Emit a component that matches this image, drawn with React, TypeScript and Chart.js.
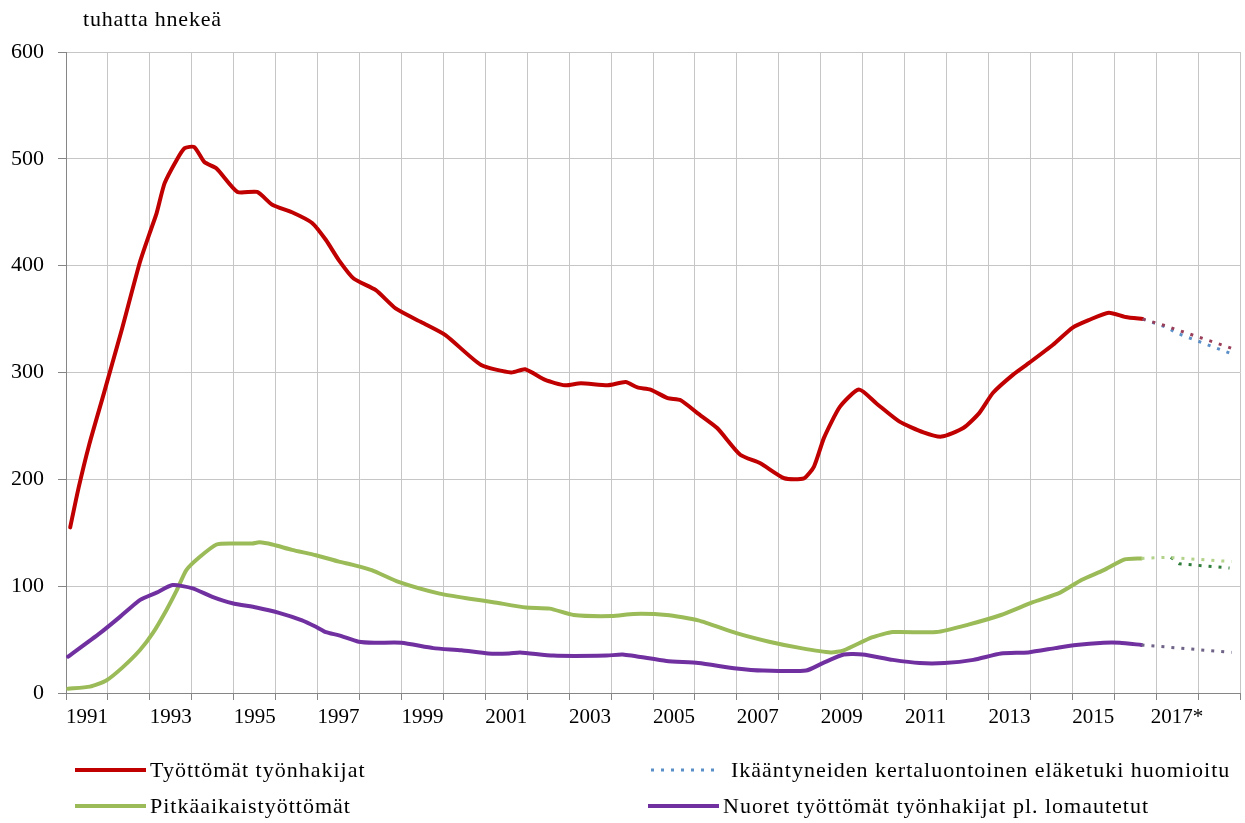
import React, { useEffect, useRef } from 'react';
import { Chart, registerables } from 'chart.js';

Chart.register(...registerables);

const FONT = '"Liberation Serif", "Times New Roman", serif';

const titleText = 'tuhatta hnekeä';

const xTickLabels = ['1991', '1993', '1995', '1997', '1999', '2001', '2003', '2005', '2007', '2009', '2011', '2013', '2015', '2017*'];

const redYears = [1991.10, 1991.30, 1991.55, 1991.90, 1992.10, 1992.33, 1992.76, 1993.00, 1993.16, 1993.35, 1993.64, 1993.83, 1994.06, 1994.30, 1994.59, 1995.09, 1995.56, 1995.92, 1996.39, 1996.87, 1997.20, 1997.51, 1997.86, 1998.39, 1998.86, 1999.48, 2000.05, 2000.90, 2001.62, 2001.95, 2002.43, 2002.90, 2003.28, 2003.92, 2004.35, 2004.63, 2004.94, 2005.35, 2005.66, 2006.06, 2006.53, 2007.08, 2007.56, 2008.13, 2008.60, 2008.84, 2009.08, 2009.46, 2009.91, 2010.33, 2010.88, 2011.45, 2011.88, 2012.40, 2012.78, 2013.11, 2013.59, 2013.97, 2014.54, 2015.01, 2015.39, 2015.87, 2016.27, 2016.68];
const redValues = [155, 192, 232, 280, 308, 340, 403, 431, 449, 477, 499, 510, 511, 497, 491, 469, 469, 457, 450, 440, 424, 405, 388, 377, 360, 347, 335, 307, 300, 303, 293, 288, 290, 288, 291, 286, 284, 276, 274, 262, 248, 223, 215, 201, 201, 212, 239, 268, 284, 271, 254, 244, 240, 248, 262, 281, 298, 309, 326, 342, 349, 356, 352, 350];

const greenYears = [1991.05, 1991.57, 1991.97, 1992.35, 1992.76, 1993.07, 1993.40, 1993.64, 1993.87, 1994.18, 1994.59, 1994.97, 1995.44, 1995.61, 1995.92, 1996.39, 1996.96, 1997.51, 1997.84, 1998.29, 1998.93, 1999.91, 2000.67, 2001.19, 2001.97, 2002.54, 2003.11, 2004.02, 2004.54, 2005.32, 2006.08, 2006.99, 2007.77, 2008.53, 2009.24, 2009.55, 2010.22, 2010.72, 2011.76, 2012.52, 2013.30, 2014.06, 2014.71, 2015.23, 2015.75, 2016.25, 2016.65];
const greenValues = [4, 6, 12, 24, 40, 56, 78, 96, 115, 127, 139, 140, 140, 141, 139, 134, 129, 123, 120, 115, 104, 93, 88, 85, 80, 79, 73, 72, 74, 73, 68, 56, 48, 42, 38, 40, 52, 57, 57, 64, 73, 85, 94, 106, 115, 125, 126];

const purpleYears = [1991.05, 1991.81, 1992.28, 1992.76, 1993.16, 1993.54, 1994.02, 1994.49, 1994.97, 1995.54, 1996.08, 1996.63, 1996.96, 1997.20, 1997.51, 1997.98, 1998.36, 1999.00, 1999.76, 2000.43, 2001.07, 2001.57, 2001.83, 2002.62, 2003.90, 2004.28, 2005.32, 2006.08, 2006.99, 2007.63, 2008.65, 2009.05, 2009.55, 2010.00, 2010.72, 2011.36, 2011.95, 2012.64, 2013.30, 2013.95, 2014.59, 2015.09, 2015.75, 2016.13, 2016.65];
const purpleValues = [34, 56, 71, 87, 94, 101, 98, 90, 84, 80, 75, 68, 62, 57, 54, 48, 47, 47, 42, 40, 37, 37, 38, 35, 35, 36, 30, 28, 23, 21, 21, 28, 36, 36, 31, 28, 28, 31, 37, 38, 42, 45, 47, 47, 45];

const redProjYears = [2016.68, 2017.20, 2018.85];
const redProjValues = [350, 344, 322];
const blueProjYears = [2016.68, 2017.20, 2017.55, 2018.90];
const blueProjValues = [350, 343, 336, 316];
const lightGreenProjYears = [2016.65, 2017.25, 2018.80];
const lightGreenProjValues = [126, 127, 123];
const darkGreenProjYears = [2017.35, 2017.55, 2018.75];
const darkGreenProjValues = [127, 121, 117];
const purpleProjYears = [2016.65, 2018.80];
const purpleProjValues = [45, 38];

const legendLabels = [
  'Työttömät työnhakijat',
  'Ikääntyneiden kertaluontoinen eläketuki huomioitu',
  'Pitkäaikaistyöttömät',
  'Nuoret työttömät työnhakijat pl. lomautetut',
];

const RED = '#c00000';
const GREEN = '#9bbb59';
const PURPLE = '#7030a0';
const BLUE = '#5b8fc7';

const pts = (xs: number[], ys: number[]) => xs.map((x, i) => ({ x, y: ys[i] }));

const solid = (label: string, data: any[], color: string) => ({
  label,
  data,
  borderColor: color,
  backgroundColor: color,
  borderWidth: 4,
  pointRadius: 0,
  borderJoinStyle: 'round' as const,
  borderCapStyle: 'round' as const,
  fill: false,
  tension: 0.2,
});

const dotted = (label: string, data: any[], color: string) => ({
  label,
  data,
  borderColor: color,
  backgroundColor: color,
  borderWidth: 3,
  borderDash: [3, 7],
  pointRadius: 0,
  fill: false,
  tension: 0,
});

const legendSpec = [
  { text: legendLabels[0], color: RED, dash: false, x: 75, y: 770 },
  { text: legendLabels[1], color: BLUE, dash: true, x: 648, y: 770 },
  { text: legendLabels[2], color: GREEN, dash: false, x: 75, y: 806 },
  { text: legendLabels[3], color: PURPLE, dash: false, x: 648, y: 806 },
];

const overlayPlugin = {
  id: 'overlay',
  afterDraw(chart: any) {
    const ctx = chart.ctx;
    ctx.save();
    ctx.fillStyle = '#000';
    ctx.textBaseline = 'middle';
    ctx.textAlign = 'left';
    ctx.font = `22px ${FONT}`;
    (ctx as any).letterSpacing = '0.8px';
    ctx.fillText(titleText, 83, 20);
    (ctx as any).letterSpacing = '1px';
    legendSpec.forEach((it) => {
      ctx.save();
      ctx.strokeStyle = it.color;
      if (it.dash) {
        ctx.lineWidth = 3;
        ctx.setLineDash([3, 7]);
        ctx.beginPath();
        ctx.moveTo(it.x + 3, it.y);
        ctx.lineTo(it.x + 70, it.y);
        ctx.stroke();
      } else {
        ctx.lineWidth = 4;
        ctx.lineCap = 'butt';
        ctx.beginPath();
        ctx.moveTo(it.x, it.y);
        ctx.lineTo(it.x + 71, it.y);
        ctx.stroke();
      }
      ctx.restore();
      ctx.fillText(it.text, it.x + (it.dash ? 83 : 75), it.y + 1);
    });
    (ctx as any).letterSpacing = '0px';
    ctx.restore();
  },
};

const isYear = (v: any) => typeof v === 'number' && Math.abs(v - Math.round(v)) < 1e-6;

const labelFor = (v: number) => {
  const idx = (v - 1991.5) / 2;
  if (Math.abs(idx - Math.round(idx)) < 1e-6 && idx >= 0 && idx < xTickLabels.length) {
    return xTickLabels[Math.round(idx)];
  }
  return '';
};

export default function App() {
  const ref = useRef<HTMLCanvasElement | null>(null);

  useEffect(() => {
    if (!ref.current) return;
    const chart = new Chart(ref.current, {
      type: 'line',
      data: {
        datasets: [
          dotted('red-proj', pts(redProjYears, redProjValues), '#9a3f5a'),
          dotted(legendLabels[1], pts(blueProjYears, blueProjValues), BLUE),
          dotted('green-proj', pts(lightGreenProjYears, lightGreenProjValues), '#b3d28a'),
          dotted('darkgreen-proj', pts(darkGreenProjYears, darkGreenProjValues), '#2f7d3a'),
          dotted('purple-proj', pts(purpleProjYears, purpleProjValues), '#6f6388'),
          solid(legendLabels[3], pts(purpleYears, purpleValues), PURPLE),
          solid(legendLabels[2], pts(greenYears, greenValues), GREEN),
          solid(legendLabels[0], pts(redYears, redValues), RED),
        ],
      },
      options: {
        animation: false,
        responsive: false,
        parsing: false as any,
        layout: { padding: { top: 52, bottom: 90, left: 0, right: 0 } },
        plugins: {
          legend: { display: false },
          tooltip: { enabled: false },
          title: { display: false },
        },
        scales: {
          x: {
            type: 'linear',
            min: 1991,
            max: 2019,
            afterBuildTicks: (scale: any) => {
              const t: any[] = [];
              for (let v = 1991; v <= 2019; v += 0.5) t.push({ value: v });
              scale.ticks = t;
            },
            afterFit: (scale: any) => {
              scale.height = 40;
            },
            grid: {
              color: (c: any) => (c.tick && isYear(c.tick.value) ? '#c6c6c6' : 'rgba(0,0,0,0)'),
              tickColor: (c: any) => (c.tick && isYear(c.tick.value) ? '#868686' : 'rgba(0,0,0,0)'),
              tickLength: 7,
              lineWidth: 1,
            },
            border: { color: '#868686', width: 1 },
            ticks: {
              autoSkip: false,
              maxRotation: 0,
              minRotation: 0,
              padding: 5,
              color: '#000',
              font: { family: FONT, size: 21 },
              callback: (v: any) => labelFor(Number(v)),
            },
          },
          y: {
            min: 0,
            max: 600,
            afterFit: (scale: any) => {
              scale.width = 66;
            },
            grid: { color: '#c6c6c6', tickColor: '#868686', tickLength: 8, lineWidth: 1 },
            border: { color: '#868686', width: 1 },
            ticks: {
              stepSize: 100,
              padding: 14,
              color: '#000',
              font: { family: FONT, size: 22 },
            },
          },
        },
      },
      plugins: [overlayPlugin],
    });
    return () => chart.destroy();
  }, []);

  return (
    <div style={{ position: 'absolute', left: 0, top: 0, width: 1245, height: 823, background: '#fff' }}>
      <canvas ref={ref} width={1245} height={823} style={{ display: 'block' }} />
    </div>
  );
}
